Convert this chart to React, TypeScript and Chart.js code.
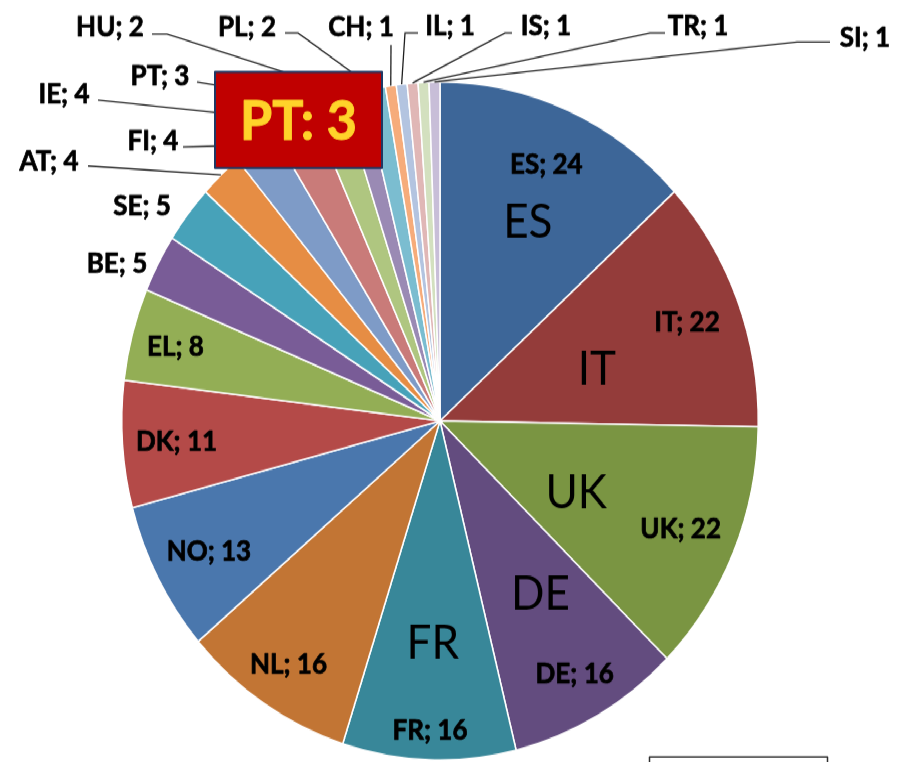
import React, { useEffect, useRef } from 'react';
import { Chart, registerables } from 'chart.js';

Chart.register(...registerables);

// ---------- data ----------
const categories = ['ES', 'IT', 'UK', 'DE', 'FR', 'NL', 'NO', 'DK', 'EL', 'BE', 'SE', 'AT', 'FI', 'IE', 'PT', 'HU', 'PL', 'CH', 'IL', 'IS', 'TR', 'SI'];
const counts = [24, 22, 22, 16, 16, 16, 13, 11, 8, 5, 5, 4, 4, 4, 3, 2, 2, 1, 1, 1, 1, 1];
const sliceColors = [
  '#3D6698', '#943C3A', '#7A9542', '#634C7F', '#388799', '#C27534', '#4A77AD', '#B44A48',
  '#93AE55', '#795C97', '#47A2B9', '#E68D44', '#7E9BC7', '#C97B79', '#AFC680', '#9A8AB4',
  '#7BBDD0', '#F6AC7B', '#B3C4E0', '#E0B7B6', '#D3E0BF', '#C8BED8',
];
const bigLabelCategories = ['ES', 'IT', 'UK', 'DE', 'FR'];
const highlightText = 'PT: 3';

// ---------- layout ----------
const W = 904;
const H = 715;
const S = 762 / H; // vertical stretch of the picture

const LABEL_SIZE = 26;
const BIG_SIZE = 44;
const BOX_SIZE = 52;

const insideRadius: Record<string, number> = {
  ES: 0.83, IT: 0.83, UK: 0.82, DE: 0.855, FR: 0.91, NL: 0.86, NO: 0.82, DK: 0.83, EL: 0.86,
};
const bigLabelPlacement: Record<string, { r: number; da: number }> = {
  ES: { r: 0.652, da: 1.3 },
  IT: { r: 0.517, da: 3.2 },
  UK: { r: 0.476, da: 3.2 },
  DE: { r: 0.596, da: -2.3 },
  FR: { r: 0.652, da: 0 },
};
type Outside = { x: number; y: number; path?: [number, number][] };
const outsidePlacement: Record<string, Outside> = {
  BE: { x: 117, y: 263 },
  SE: { x: 142, y: 205 },
  AT: { x: 49, y: 161, path: [[88, 166]] },
  FI: { x: 153, y: 140, path: [[183, 147]] },
  IE: { x: 64, y: 93, path: [[98, 100]] },
  PT: { x: 160, y: 75, path: [[197, 82]] },
  HU: { x: 110, y: 26, path: [[152, 34], [167, 34]] },
  PL: { x: 247, y: 26, path: [[285, 33], [298, 33]] },
  CH: { x: 361, y: 26, path: [[391, 45]] },
  IL: { x: 450, y: 25, path: [[418, 33], [405, 33]] },
  IS: { x: 546, y: 25, path: [[512, 33], [505, 33]] },
  TR: { x: 698, y: 25, path: [[665, 33], [650, 33]] },
  SI: { x: 865, y: 37, path: [[830, 42], [797, 42]] },
};
const highlightBox = { x1: 215, y1: 72, x2: 382, y2: 168 };
const emptyBox = { x1: 649, y1: 757, x2: 827 };

function drawCentered(ctx: CanvasRenderingContext2D, text: string, x: number, yCapCenter: number, font: string, size: number, color: string, heavy = 0) {
  ctx.font = font;
  ctx.fillStyle = color;
  ctx.textAlign = 'center';
  ctx.textBaseline = 'alphabetic';
  const yy = yCapCenter + 0.36 * size;
  ctx.fillText(text, x, yy);
  if (heavy > 0) {
    ctx.strokeStyle = color;
    ctx.lineWidth = heavy;
    ctx.lineJoin = 'round';
    ctx.strokeText(text, x, yy);
  }
}

const overlayPlugin = {
  id: 'overlay',
  afterDatasetsDraw(chart: any) {
    const ctx: CanvasRenderingContext2D = chart.ctx;
    const arcs = chart.getDatasetMeta(0).data;
    const labelFont = `bold ${LABEL_SIZE}px Lato`;
    ctx.save();
    // leader lines
    arcs.forEach((arc: any, i: number) => {
      const cat = categories[i];
      const o = outsidePlacement[cat];
      if (!o || !o.path) return;
      const { x, y, startAngle, endAngle, outerRadius } = arc.getProps(['x', 'y', 'startAngle', 'endAngle', 'outerRadius'], true);
      const mid = (startAngle + endAngle) / 2;
      ctx.beginPath();
      ctx.moveTo(o.path[0][0], o.path[0][1] / S);
      for (let k = 1; k < o.path.length; k++) ctx.lineTo(o.path[k][0], o.path[k][1] / S);
      ctx.lineTo(x + Math.cos(mid) * outerRadius, y + Math.sin(mid) * outerRadius);
      ctx.strokeStyle = '#202020';
      ctx.lineWidth = 1.3;
      ctx.stroke();
    });
    // data labels
    arcs.forEach((arc: any, i: number) => {
      const cat = categories[i];
      const text = `${cat}; ${counts[i]}`;
      const { x, y, startAngle, endAngle, outerRadius } = arc.getProps(['x', 'y', 'startAngle', 'endAngle', 'outerRadius'], true);
      const mid = (startAngle + endAngle) / 2;
      if (insideRadius[cat] != null) {
        const r = insideRadius[cat] * outerRadius;
        drawCentered(ctx, text, x + Math.cos(mid) * r, y + Math.sin(mid) * r, labelFont, LABEL_SIZE, '#000', 0.7);
      } else if (outsidePlacement[cat]) {
        const o = outsidePlacement[cat];
        drawCentered(ctx, text, o.x, o.y / S, labelFont, LABEL_SIZE, '#000', 0.7);
      }
    });
    // big category labels
    bigLabelCategories.forEach((cat) => {
      const i = categories.indexOf(cat);
      const arc = arcs[i];
      const { x, y, startAngle, endAngle, outerRadius } = arc.getProps(['x', 'y', 'startAngle', 'endAngle', 'outerRadius'], true);
      const p = bigLabelPlacement[cat];
      const a = (startAngle + endAngle) / 2 + (p.da * Math.PI) / 180;
      const r = p.r * outerRadius;
      drawCentered(ctx, cat, x + Math.cos(a) * r, y + Math.sin(a) * r, `${BIG_SIZE}px Lato`, BIG_SIZE, '#000');
    });
    // highlight box
    const bx = highlightBox.x1, by = highlightBox.y1 / S;
    const bw = highlightBox.x2 - highlightBox.x1, bh = (highlightBox.y2 - highlightBox.y1) / S;
    ctx.fillStyle = '#C00000';
    ctx.fillRect(bx, by, bw, bh);
    ctx.strokeStyle = '#1F3864';
    ctx.lineWidth = 2;
    ctx.strokeRect(bx, by, bw, bh);
    drawCentered(ctx, highlightText, bx + bw / 2, by + bh / 2, `bold ${BOX_SIZE}px Lato`, BOX_SIZE, '#FFD32A', 1);
    // empty box at the bottom
    ctx.strokeStyle = '#303030';
    ctx.lineWidth = 1.5;
    ctx.strokeRect(emptyBox.x1 + 0.5, emptyBox.y1 / S, emptyBox.x2 - emptyBox.x1, 40);
    ctx.restore();
  },
};

export default function App() {
  const ref = useRef<HTMLCanvasElement>(null);
  useEffect(() => {
    const chart = new Chart(ref.current as HTMLCanvasElement, {
      type: 'pie',
      data: {
        labels: categories,
        datasets: [{ data: counts, backgroundColor: sliceColors, borderColor: '#ffffff', borderWidth: 1.5 }],
      },
      options: {
        responsive: false,
        animation: false,
        layout: { padding: { left: 121, right: 145, top: 76, bottom: 1 } },
        plugins: { legend: { display: false }, tooltip: { enabled: false } },
      },
      plugins: [overlayPlugin],
    } as any);
    return () => chart.destroy();
  }, []);
  return (
    <div
      style={{
        position: 'fixed', left: 0, top: 0, width: W, height: H,
        transform: `scaleY(${S})`, transformOrigin: '0 0', background: '#fff',
      }}
    >
      <canvas ref={ref} width={W} height={H} style={{ display: 'block' }} />
    </div>
  );
}
